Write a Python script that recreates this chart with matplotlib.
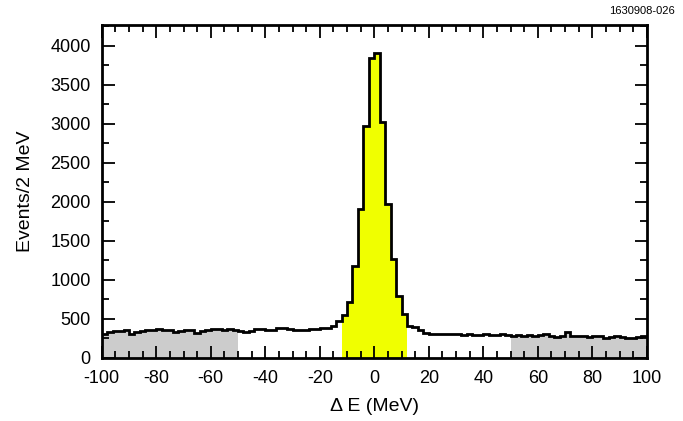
import numpy as np
import matplotlib
matplotlib.use("Agg")
import matplotlib.pyplot as plt
from matplotlib.ticker import MultipleLocator

plt.rcParams['font.family'] = ['Liberation Sans', 'DejaVu Sans']
plt.rcParams['axes.unicode_minus'] = False

# 2 MeV bins from -100 to 100
edges = np.arange(-100, 101, 2)

sideband_left = [307, 337, 345, 350, 355, 300, 335, 340, 360, 355, 365, 355, 360,
                 325, 345, 360, 355, 315, 345, 360, 365, 370, 360, 365, 360]
pre_peak = [340, 335, 340, 372, 365, 355, 360, 380, 385, 365, 360, 355, 360,
            370, 365, 385, 380, 410, 475]
peak = [551, 709, 1179, 1910, 2966, 3842, 3906, 3021, 1970, 1265, 795, 560]
post_peak = [414, 390, 360, 316, 305, 300, 310, 305, 300, 305, 295, 300, 295,
             290, 300, 295, 290, 300, 295]
sideband_right = [285, 290, 280, 295, 275, 290, 300, 285, 270, 280, 330, 280, 285,
                  275, 270, 275, 280, 260, 265, 280, 270, 260, 255, 265, 280]

counts = np.array(sideband_left + pre_peak + peak + post_peak + sideband_right)

fig = plt.figure(figsize=(6.83, 4.21), dpi=100)
ax = fig.add_axes([0.149, 0.150, 0.798, 0.791])

n1 = len(sideband_left)
n2 = n1 + len(pre_peak)
n3 = n2 + len(peak)
n4 = n3 + len(post_peak)

ax.stairs(counts[:n1], edges[:n1 + 1], fill=True, color='#cccccc', lw=0)
ax.stairs(counts[n2:n3], edges[n2:n3 + 1], fill=True, color='#f0ff00', lw=0)
ax.stairs(counts[n4:], edges[n4:], fill=True, color='#cccccc', lw=0)
ax.stairs(counts, edges, baseline=None, color='black', lw=2)

ax.set_xlim(-100, 100)
ax.set_ylim(0, 4265)
ax.xaxis.set_major_locator(MultipleLocator(20))
ax.xaxis.set_minor_locator(MultipleLocator(5))
ax.yaxis.set_major_locator(MultipleLocator(500))
ax.yaxis.set_minor_locator(MultipleLocator(250))
ax.tick_params(which='both', direction='in', top=True, right=True, width=1.3,
               labelsize=13)
ax.tick_params(which='major', length=9)
ax.tick_params(which='minor', length=5)
ax.tick_params(axis='x', pad=9)
ax.tick_params(axis='y', pad=8)
for s in ax.spines.values():
    s.set_linewidth(2)

ax.set_xlabel('\u0394 E (MeV)', fontsize=14, labelpad=8)
ax.set_ylabel('Events/2 MeV', fontsize=14, labelpad=12)
fig.text(0.988, 0.985, '1630908-026', ha='right', va='top', fontsize=8)

fig.savefig('out.png', dpi=100)
